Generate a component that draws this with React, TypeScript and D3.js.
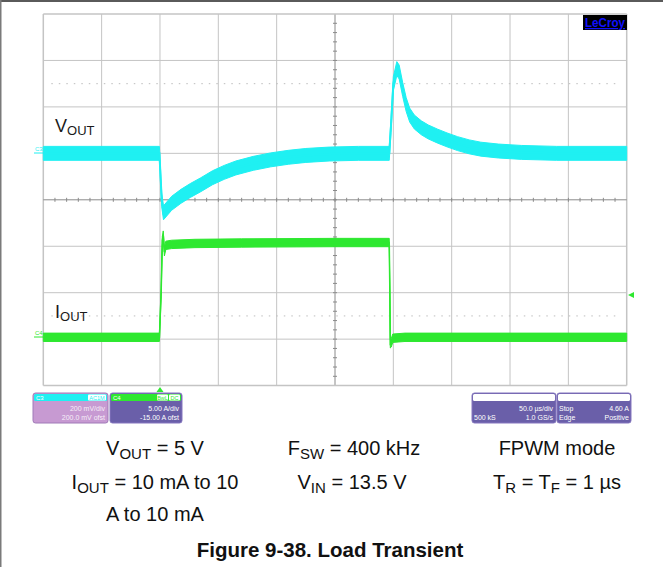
import React from "react";
import * as d3 from "d3";

// ---- Data (read from the scope capture) ----
// time in µs (50 µs/div, 10 divs), VOUT deviation in mV (200 mV/div), IOUT in A (5 A/div, -15 A offset)
const voutTime = [-250, -150.5, -148.5, -147, -140, -132, -124, -115, -105, -95, -85, -70, -55, -40, -25, -5, 20, 46.5, 48, 50, 53, 55, 58, 61, 64, 68, 74, 80, 88, 96, 105, 115, 125, 140, 160, 190, 250];
const voutMv = [0, 0, -200, -256, -215, -185, -160, -135, -105, -82, -63, -43, -28, -17, -9, -3, 0, 0, 120, 300, 365, 350, 275, 210, 165, 135, 110, 92, 74, 58, 42, 28, 18, 10, 4, 0, 0];
const voutNoiseMv = 30;

const ioutTime = [-250, -150.5, -149, -148, -147.2, -146.2, -145, -140, -120, -80, 0, 46.5, 47, 47.4, 48.2, 49.5, 60, 250];
const ioutA = [0.2, 0.2, 5, 10.6, 11.2, 9.4, 10.1, 10.2, 10.3, 10.35, 10.4, 10.4, 5, -0.5, -0.4, 0.1, 0.2, 0.2];
const ioutNoiseA = 0.45;

const timeDomain = [-250, 250];
const voltDomain = [-1000, 600]; // 200 mV/div, 8 divs
const currDomain = [-5, 35]; // 5 A/div, 8 divs

const ch3Lines = ["200 mV/div", "200.0 mV ofst"];
const ch4Lines = ["5.00 A/div", "-15.00 A ofst"];
const timebaseLines = ["50.0 µs/div", "1.0 GS/s"];
const timebaseLeft = ["", "500 kS"];
const trigRight = ["4.60 A", "Positive"];
const trigLeft = ["Stop", "Edge"];

const W = 663;
const H = 567;
const L = 43.3, R = 626.7, T = 14, B = 385.6;

const CYAN = "#1ff0f2";
const GREEN = "#2ee830";
const FONT = "'Liberation Sans', Arial, sans-serif";

export default function App() {
  const x = d3.scaleLinear().domain(timeDomain).range([L, R]);
  const yV = d3.scaleLinear().domain(voltDomain).range([B, T]);
  const yI = d3.scaleLinear().domain(currDomain).range([B, T]);

  const vData = voutTime.map((t, i) => ({ t, v: voutMv[i] }));
  const iData = ioutTime.map((t, i) => ({ t, v: ioutA[i] }));

  const vArea = d3.area<{ t: number; v: number }>()
    .x((d) => x(d.t))
    .y0((d) => yV(d.v - voutNoiseMv))
    .y1((d) => yV(d.v + voutNoiseMv))(vData) || "";
  const vLine = d3.line<{ t: number; v: number }>()
    .x((d) => x(d.t)).y((d) => yV(d.v))(vData) || "";
  const iArea = d3.area<{ t: number; v: number }>()
    .x((d) => x(d.t))
    .y0((d) => yI(d.v - ioutNoiseA))
    .y1((d) => yI(d.v + ioutNoiseA))(iData) || "";
  const iLine = d3.line<{ t: number; v: number }>()
    .x((d) => x(d.t)).y((d) => yI(d.v))(iData) || "";

  const vTicks = d3.range(0, 11).map((k) => L + (k * (R - L)) / 10);
  const hTicks = d3.range(0, 9).map((k) => T + (k * (B - T)) / 8);
  const cx = (L + R) / 2;
  const cy = (T + B) / 2;
  const dx = (R - L) / 10;
  const dy = (B - T) / 8;
  const minorX = d3.range(1, 50).map((k) => L + (k * dx) / 5);
  const minorY = d3.range(1, 40).map((k) => T + (k * dy) / 5);

  const box = (bx: number, bw: number, header: string, body: string, headerStroke: string) => (
    <g>
      <rect x={bx} y={393} width={bw} height={30} rx={2.5} fill={body} stroke={headerStroke} strokeWidth={1} />
      <rect x={bx + 1} y={394} width={bw - 2} height={7} rx={1.5} fill={header} />
    </g>
  );

  return (
    <svg width={W} height={H} style={{ position: "absolute", left: 0, top: 0, background: "#fff" }} fontFamily={FONT}>
      <rect x={0} y={0} width={W} height={H} fill="#fff" />
      {/* page border */}
      <rect x={0} y={0} width={W} height={2} fill="#5a5a5a" />
      <rect x={0} y={0} width={1.5} height={H} fill="#7a7a7a" />

      {/* grid */}
      {vTicks.map((v, i) => (
        <line key={"v" + i} x1={v} x2={v} y1={T} y2={B} stroke={i === 5 ? "#8a8a8a" : "#c4c4c4"} strokeWidth={i === 0 || i === 10 ? 1.5 : 1} />
      ))}
      {hTicks.map((h, i) => (
        <line key={"h" + i} x1={L} x2={R} y1={h} y2={h} stroke={i === 4 ? "#8a8a8a" : "#c4c4c4"} strokeWidth={i === 0 || i === 8 ? 1.5 : 1} />
      ))}
      {minorX.map((m, i) => (
        <line key={"mx" + i} x1={m} x2={m} y1={cy - 2} y2={cy + 2} stroke="#8a8a8a" strokeWidth={1} />
      ))}
      {minorY.map((m, i) => (
        <line key={"my" + i} x1={cx - 2} x2={cx + 2} y1={m} y2={m} stroke="#8a8a8a" strokeWidth={1} />
      ))}
      {/* reference dotted lines */}
      <line x1={L + 8} x2={R - 8} y1={T + dy * 1.5} y2={T + dy * 1.5} stroke="#bdbdbd" strokeWidth={1} strokeDasharray="1.5 6" />
      <line x1={L + 8} x2={R - 8} y1={T + dy * 6.5} y2={T + dy * 6.5} stroke="#bdbdbd" strokeWidth={1} strokeDasharray="1.5 6" />

      {/* traces */}
      <path d={vArea} fill={CYAN} stroke={CYAN} strokeWidth={1} />
      <path d={vLine} fill="none" stroke={CYAN} strokeWidth={2} />
      <path d={iArea} fill={GREEN} stroke={GREEN} strokeWidth={1} />
      <path d={iLine} fill="none" stroke={GREEN} strokeWidth={1.5} />

      {/* channel markers */}
      <text x={35} y={151} fontSize={6} fill={CYAN}>C3</text>
      <line x1={34} x2={43} y1={153} y2={153} stroke={CYAN} strokeWidth={1} />
      <text x={35} y={335} fontSize={6} fill={GREEN}>C4</text>
      <line x1={34} x2={43} y1={337} y2={337} stroke={GREEN} strokeWidth={1} />
      <path d="M628,295 L634,292 L634,298 Z" fill={GREEN} />
      <path d="M160,387 L156.5,392 L163.5,392 Z" fill={GREEN} />

      {/* trace labels */}
      <text x={55} y={132} fontSize={18} fill="#1a1a1a">V<tspan fontSize={13} dy={3}>OUT</tspan></text>
      <text x={55} y={318} fontSize={18} fill="#1a1a1a">I<tspan fontSize={13} dy={3}>OUT</tspan></text>

      {/* LeCroy logo */}
      <rect x={583} y={15} width={44} height={15} fill="#000" />
      <text x={605} y={27} fontSize={12.5} fontWeight="bold" fill="#1010ff" textAnchor="middle" textDecoration="underline" textLength={40} lengthAdjust="spacingAndGlyphs">LeCroy</text>

      {/* info boxes */}
      {box(33, 75, CYAN, "#c79ad2", "#a07ab8")}
      <text x={36} y={400} fontSize={6} fill="#fff">C3</text>
      <rect x={88} y={394.5} width={18} height={6} rx={1} fill="#fff" />
      <text x={97} y={400} fontSize={5.5} fill={CYAN} textAnchor="middle">AC1M</text>
      {ch3Lines.map((s, i) => (
        <text key={"c3" + i} x={105} y={411 + i * 9} fontSize={7} fill="#f6eef8" textAnchor="end">{s}</text>
      ))}

      {box(110, 72, GREEN, "#6a5fa9", "#8577bf")}
      <text x={113} y={400} fontSize={6} fill="#fff">C4</text>
      <rect x={157} y={394.5} width={11} height={6} rx={1} fill="#fff" />
      <text x={162.5} y={400} fontSize={5.5} fill={GREEN} textAnchor="middle">BwL</text>
      <rect x={169} y={394.5} width={11} height={6} rx={1} fill="#fff" />
      <text x={174.5} y={400} fontSize={5.5} fill={GREEN} textAnchor="middle">DC</text>
      {ch4Lines.map((s, i) => (
        <text key={"c4" + i} x={179} y={411 + i * 9} fontSize={7} fill="#fff" textAnchor="end">{s}</text>
      ))}

      {box(472, 84, "#ffffff", "#6a5fa9", "#8577bf")}
      {timebaseLines.map((s, i) => (
        <text key={"tb" + i} x={553} y={411 + i * 9} fontSize={7} fill="#fff" textAnchor="end">{s}</text>
      ))}
      {timebaseLeft.map((s, i) => (
        <text key={"tbl" + i} x={474} y={411 + i * 9} fontSize={7} fill="#fff">{s}</text>
      ))}

      {box(557, 74, "#ffffff", "#6a5fa9", "#8577bf")}
      {trigRight.map((s, i) => (
        <text key={"tr" + i} x={629} y={411 + i * 9} fontSize={7} fill="#fff" textAnchor="end">{s}</text>
      ))}
      {trigLeft.map((s, i) => (
        <text key={"tl" + i} x={559} y={411 + i * 9} fontSize={7} fill="#fff">{s}</text>
      ))}

      {/* conditions text */}
      <g fontSize={20} fill="#111" textAnchor="middle">
        <text x={155} y={455}>V<tspan fontSize={15} dy={4}>OUT</tspan><tspan dy={-4}> = 5 V</tspan></text>
        <text x={354} y={455}>F<tspan fontSize={15} dy={4}>SW</tspan><tspan dy={-4}> = 400 kHz</tspan></text>
        <text x={557} y={455}>FPWM mode</text>
        <text x={155} y={489}>I<tspan fontSize={15} dy={4}>OUT</tspan><tspan dy={-4}> = 10 mA to 10</tspan></text>
        <text x={352} y={489}>V<tspan fontSize={15} dy={4}>IN</tspan><tspan dy={-4}> = 13.5 V</tspan></text>
        <text x={557} y={489}>T<tspan fontSize={15} dy={4}>R</tspan><tspan dy={-4}> = T</tspan><tspan fontSize={15} dy={4}>F</tspan><tspan dy={-4}> = 1 µs</tspan></text>
        <text x={155} y={521}>A to 10 mA</text>
      </g>
      <text x={330} y={557} fontSize={20.5} fontWeight="bold" fill="#111" textAnchor="middle">Figure 9-38. Load Transient</text>
    </svg>
  );
}
